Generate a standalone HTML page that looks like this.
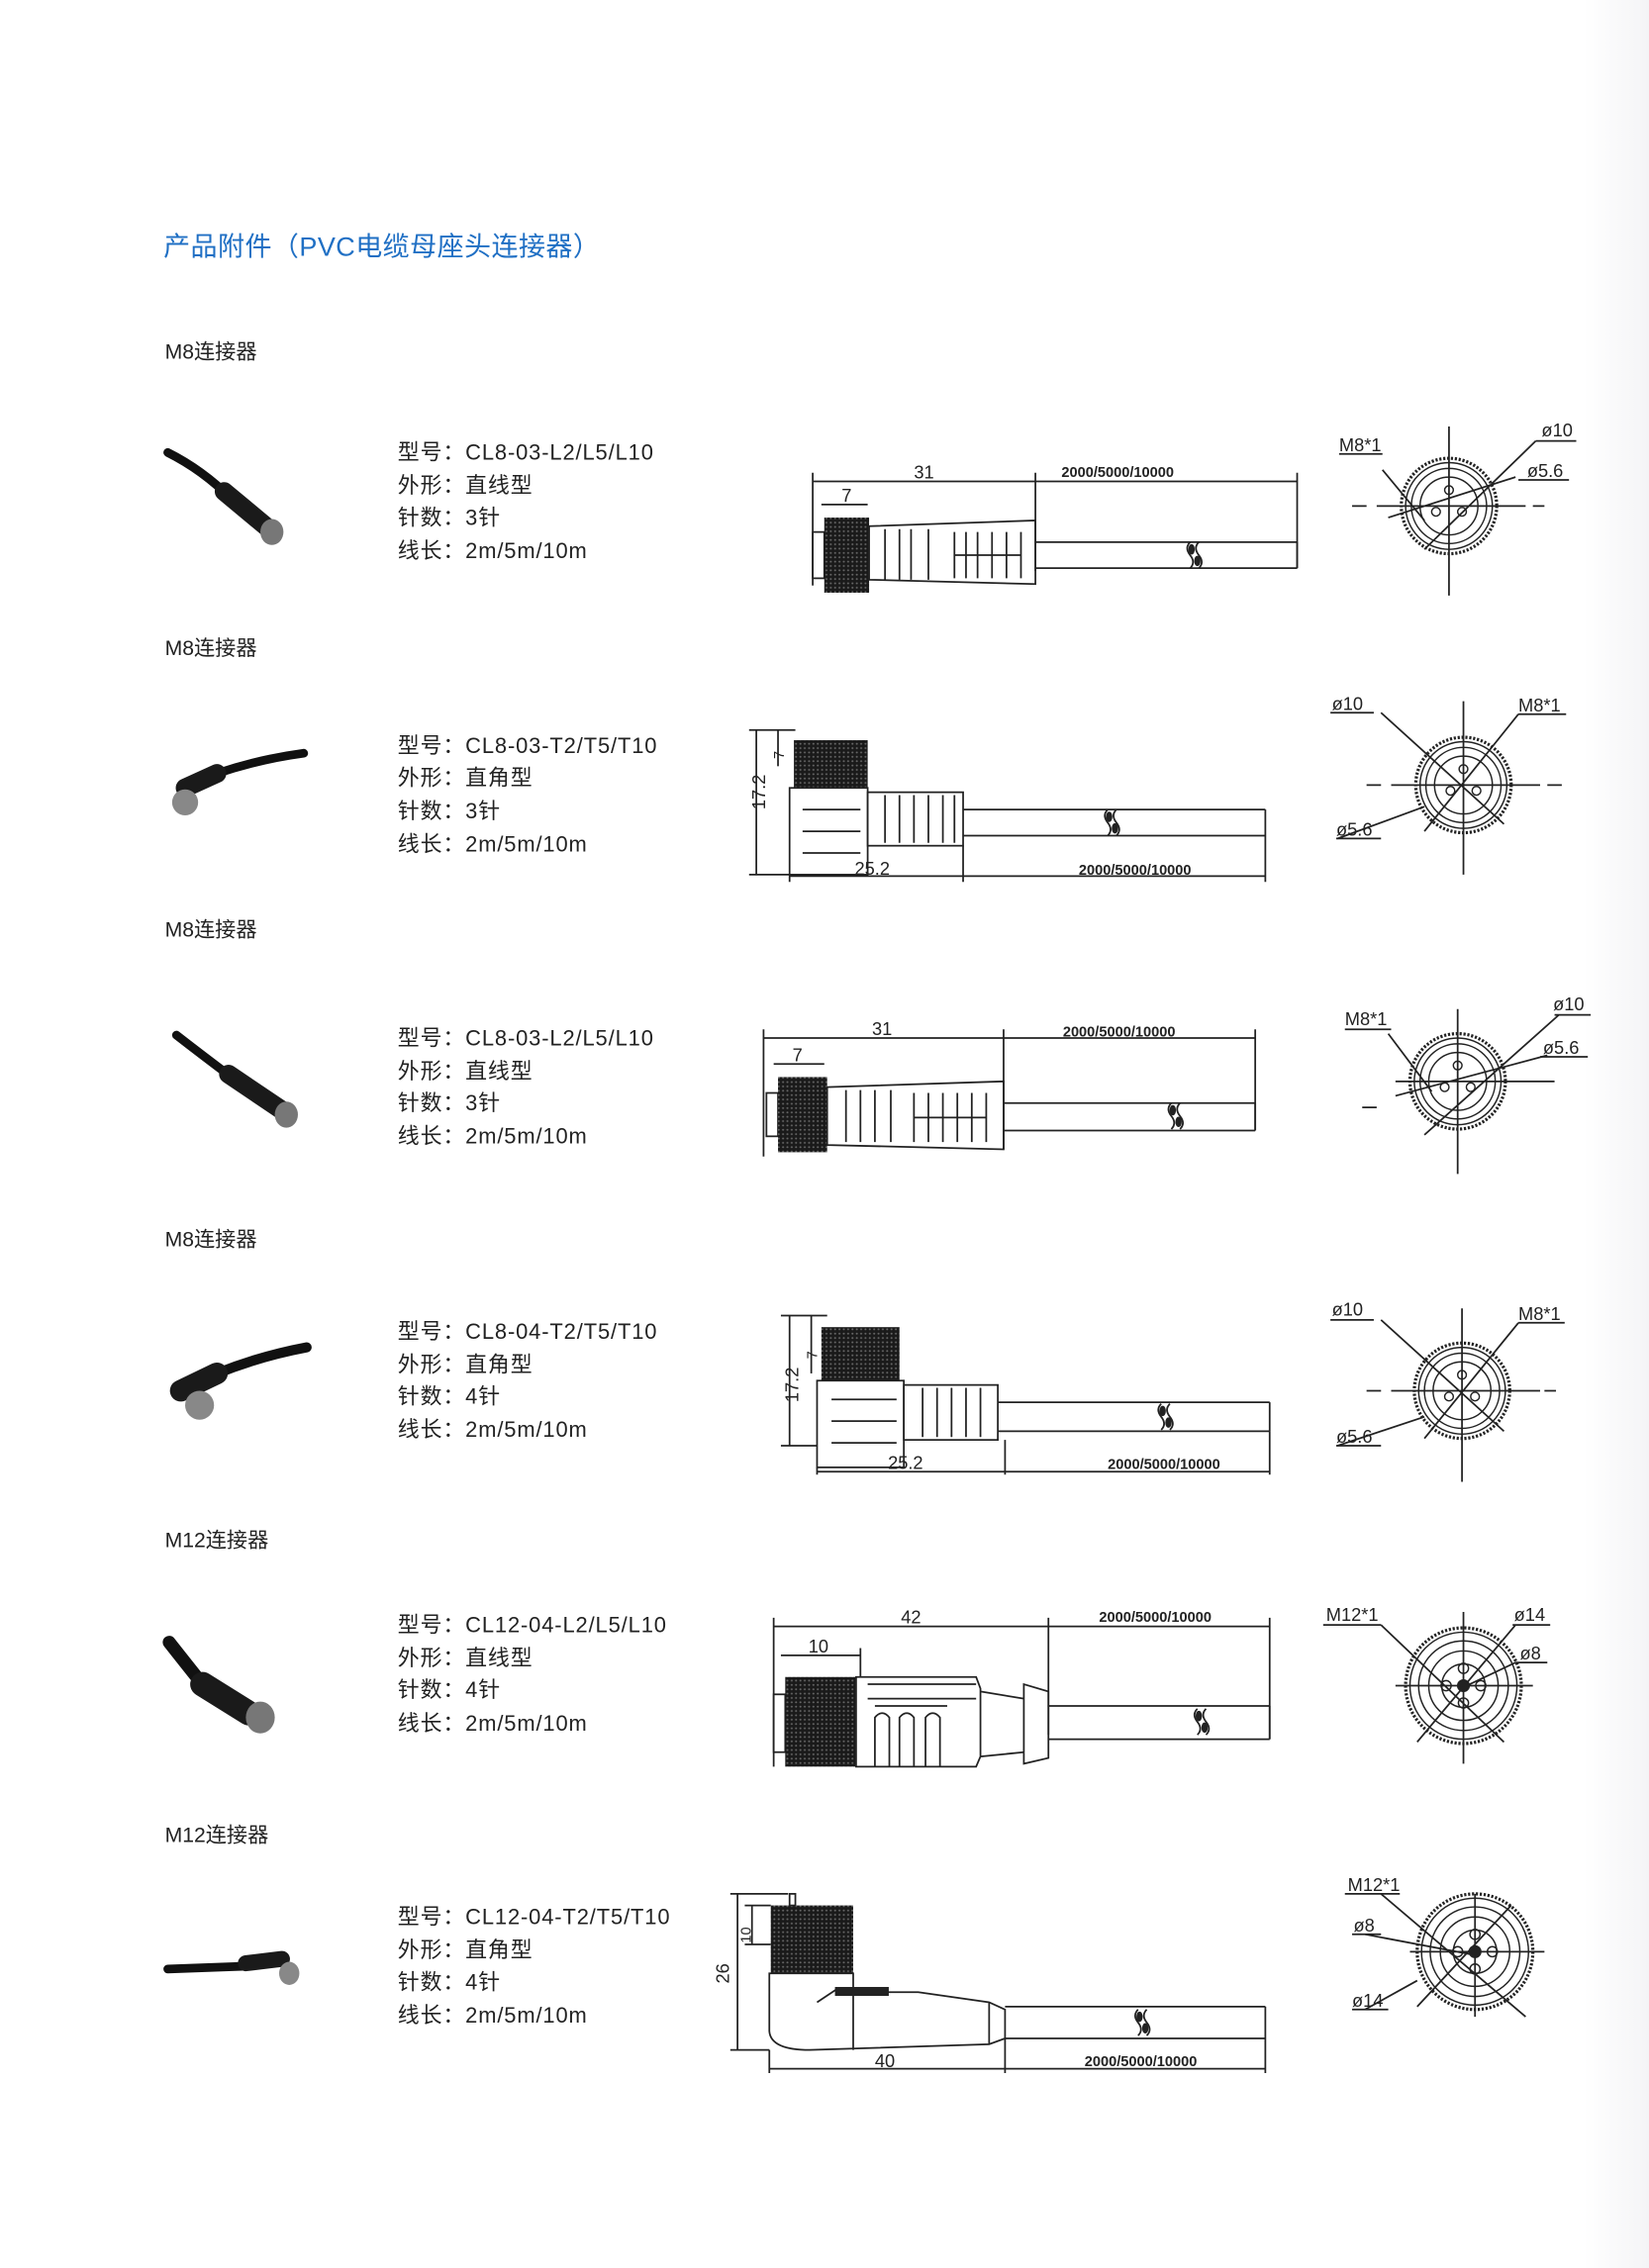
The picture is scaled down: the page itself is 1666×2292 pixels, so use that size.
<!DOCTYPE html>
<html><head><meta charset="utf-8"><style>
html,body{margin:0;padding:0;background:#fff}
svg{display:block}
.t{font-family:"Liberation Sans","Noto Sans CJK SC",sans-serif}
</style></head><body>
<svg width="1666" height="2292" viewBox="0 0 1140.3 1568.8" xmlns="http://www.w3.org/2000/svg">
<defs>
<pattern id="kn" width="3" height="3" patternUnits="userSpaceOnUse"><rect width="3" height="3" fill="#1a1a1a"/><circle cx="1.5" cy="1.5" r="0.7" fill="#666"/></pattern>
<linearGradient id="gr" x1="0" x2="1"><stop offset="0" stop-color="#fff"/><stop offset="1" stop-color="#f4f4f6"/></linearGradient>
<g id="brk"><path d="M0,-9 q-4,4 0,9 q4,5 0,9" fill="none" stroke="#222" stroke-width="1.2"/><path d="M6,-9 q-4,4 0,9 q4,5 0,9" fill="none" stroke="#222" stroke-width="1.2"/><ellipse cx="1" cy="-4" rx="1.6" ry="3" fill="#222"/><ellipse cx="5" cy="4" rx="1.6" ry="3" fill="#222"/></g>
<g id="circ8" fill="none" stroke="#222" stroke-width="1">
<circle r="33" stroke-dasharray="1.5 1.2" stroke-width="2.2"/><circle r="30"/><circle r="26"/><circle r="20"/>
<circle cx="0" cy="-11" r="3"/><circle cx="-9" cy="4" r="3"/><circle cx="9" cy="4" r="3"/>
</g>
<g id="circ12" fill="none" stroke="#222" stroke-width="1">
<circle r="40" stroke-dasharray="1.5 1.2" stroke-width="2.2"/><circle r="37"/><circle r="31"/><circle r="24"/><circle r="15"/>
<circle cx="0" cy="-12" r="3.5"/><circle cx="-12" cy="0" r="3.5"/><circle cx="12" cy="0" r="3.5"/><circle cx="0" cy="12" r="3.5"/><circle r="4" fill="#222"/>
</g>
</defs>
<rect x="1095" y="0" width="46" height="1569" fill="url(#gr)"/>
<g class="t">
<text x="113" y="177" font-size="18.5" fill="#1f6fc4" letter-spacing="0.3">产品附件（PVC电缆母座头连接器）</text>
<g font-size="14.5" fill="#222">
<text x="114" y="248">M8连接器</text><text x="114" y="453">M8连接器</text><text x="114" y="648">M8连接器</text>
<text x="114" y="862">M8连接器</text><text x="114" y="1070">M12连接器</text><text x="114" y="1274">M12连接器</text>
</g>
<g font-size="15" fill="#222" letter-spacing="0.6">
<text x="275" y="318">型号：CL8-03-L2/L5/L10</text><text x="275" y="341">外形：直线型</text><text x="275" y="363">针数：3针</text><text x="275" y="386">线长：2m/5m/10m</text>
<text x="275" y="521">型号：CL8-03-T2/T5/T10</text><text x="275" y="543">外形：直角型</text><text x="275" y="566">针数：3针</text><text x="275" y="589">线长：2m/5m/10m</text>
<text x="275" y="723">型号：CL8-03-L2/L5/L10</text><text x="275" y="746">外形：直线型</text><text x="275" y="768">针数：3针</text><text x="275" y="791">线长：2m/5m/10m</text>
<text x="275" y="926">型号：CL8-04-T2/T5/T10</text><text x="275" y="949">外形：直角型</text><text x="275" y="971">针数：4针</text><text x="275" y="994">线长：2m/5m/10m</text>
<text x="275" y="1129">型号：CL12-04-L2/L5/L10</text><text x="275" y="1152">外形：直线型</text><text x="275" y="1174">针数：4针</text><text x="275" y="1197">线长：2m/5m/10m</text>
<text x="275" y="1331">型号：CL12-04-T2/T5/T10</text><text x="275" y="1354">外形：直角型</text><text x="275" y="1376">针数：4针</text><text x="275" y="1399">线长：2m/5m/10m</text>
</g>
</g>
<!-- photos -->
<g stroke-linecap="round">
<path d="M116,313 Q140,325 160,345" stroke="#111" stroke-width="6" fill="none"/><path d="M155,340 L185,365" stroke="#1a1a1a" stroke-width="13"/><ellipse cx="188" cy="368" rx="8" ry="9" fill="#777"/>
<path d="M210,521 Q180,525 150,535" stroke="#111" stroke-width="6" fill="none"/><path d="M150,535 L128,545" stroke="#1a1a1a" stroke-width="13"/><ellipse cx="128" cy="555" rx="9" ry="9" fill="#888"/>
<path d="M122,716 Q140,730 160,745" stroke="#111" stroke-width="6" fill="none"/><path d="M158,743 L195,768" stroke="#1a1a1a" stroke-width="13"/><ellipse cx="198" cy="771" rx="8" ry="9" fill="#777"/>
<path d="M212,932 Q180,938 150,950" stroke="#111" stroke-width="7" fill="none"/><path d="M150,950 L125,962" stroke="#1a1a1a" stroke-width="15"/><ellipse cx="138" cy="972" rx="10" ry="10" fill="#888"/>
<path d="M117,1136 Q128,1150 140,1165" stroke="#111" stroke-width="9" fill="none"/><path d="M140,1165 L172,1185" stroke="#1a1a1a" stroke-width="17"/><ellipse cx="180" cy="1188" rx="10" ry="11" fill="#777"/>
<path d="M116,1362 L170,1360" stroke="#111" stroke-width="6" fill="none"/><path d="M170,1358 L195,1355" stroke="#1a1a1a" stroke-width="11"/><ellipse cx="200" cy="1365" rx="7" ry="8" fill="#888"/>
</g>
<g fill="none" stroke="#222" stroke-width="1.2" class="t">
<!-- D1 -->
<line x1="562" y1="327" x2="562" y2="405"/><line x1="716" y1="327" x2="716" y2="395"/><line x1="897" y1="327" x2="897" y2="393"/>
<line x1="562" y1="333" x2="897" y2="333"/><line x1="568" y1="349" x2="600" y2="349"/>
<rect x="562" y="368" width="8" height="32"/><rect x="570" y="358" width="31" height="52" fill="url(#kn)" stroke="none"/>
<path d="M601,364 L716,360 L716,404 L601,401 Z"/><path d="M612,366v35M622,366v35M630,366v35M642,366v35M660,368v32M668,368v32M676,368v32M686,368v32M696,368v32M706,368v32M660,384h46"/>
<path d="M716,375 H897 M716,393 H897 M897,375 V393"/><use href="#brk" x="823" y="384"/>
<g transform="translate(1002,350)"><use href="#circ8"/></g>
<path d="M1002,295 V412 M935,350 h10 M952,350 H1055 M1060,350 h8 M956,325 L985,360 M1062,305 L985,380 M1048,330 L960,358"/>
<path d="M926,314 H956 M1062,305 H1090 M1050,332 H1085"/>
<!-- D2 -->
<line x1="518" y1="505" x2="550" y2="505"/><line x1="518" y1="605" x2="546" y2="605"/><line x1="523" y1="505" x2="523" y2="605"/><line x1="538" y1="505" x2="538" y2="530"/>
<rect x="549" y="512" width="51" height="33" fill="url(#kn)" stroke="none"/><rect x="546" y="545" width="54" height="60"/>
<path d="M555,560h40M555,575h40M555,590h40"/><rect x="600" y="548" width="66" height="37"/><path d="M612,550v33M622,550v33M632,550v33M642,550v33M652,550v33M660,550v33"/>
<path d="M666,560 H875 M666,578 H875 M875,560 V578"/><use href="#brk" x="766" y="569"/>
<path d="M546,605 V610 M666,585 V610 M875,578 V610 M546,606 H875"/>
<g transform="translate(1012,543)"><use href="#circ8"/></g>
<path d="M1012,485 V605 M945,543 h10 M962,543 H1065 M1070,543 h10 M955,493 L1040,570 M1050,494 L985,575 M925,580 L985,558"/>
<path d="M920,493 H950 M1050,494 H1083 M924,580 H955"/>
<!-- D3 -->
<line x1="528" y1="712" x2="528" y2="800"/><line x1="694" y1="712" x2="694" y2="795"/><line x1="868" y1="712" x2="868" y2="782"/>
<line x1="528" y1="718" x2="868" y2="718"/><line x1="535" y1="736" x2="570" y2="736"/>
<rect x="530" y="756" width="8" height="30"/><rect x="538" y="745" width="34" height="52" fill="url(#kn)" stroke="none"/>
<path d="M572,752 L694,748 L694,795 L572,792 Z"/><path d="M585,754v36M595,754v36M605,754v36M616,754v36M632,756v34M642,756v34M652,756v34M662,756v34M672,756v34M682,756v34M632,773h50"/>
<path d="M694,763 H868 M694,782 H868 M868,763 V782"/><use href="#brk" x="810" y="772"/>
<g transform="translate(1008,748)"><use href="#circ8"/></g>
<path d="M1008,698 V812 M942,766 h10 M965,748 H1075 M960,715 L990,755 M1078,702 L985,785 M1070,730 L965,758"/>
<path d="M930,712 H962 M1075,702 H1100 M1065,731 H1098"/>
<!-- D4 -->
<line x1="540" y1="910" x2="572" y2="910"/><line x1="540" y1="1000" x2="565" y2="1000"/><line x1="546" y1="910" x2="546" y2="1000"/><line x1="561" y1="910" x2="561" y2="950"/>
<rect x="568" y="918" width="54" height="37" fill="url(#kn)" stroke="none"/><rect x="565" y="955" width="60" height="60"/>
<path d="M575,968h45M575,983h45M575,998h45"/><rect x="625" y="958" width="65" height="38"/><path d="M638,960v34M648,960v34M658,960v34M668,960v34M678,960v34"/>
<path d="M690,970 H878 M690,990 H878 M878,970 V990"/><use href="#brk" x="803" y="980"/>
<path d="M565,1015 V1020 M695,996 V1020 M878,990 V1020 M565,1018 H878"/>
<g transform="translate(1011,962)"><use href="#circ8"/></g>
<path d="M1011,905 V1025 M945,962 h10 M962,962 H1065 M1068,962 h8 M955,913 L1040,990 M1050,915 L985,995 M925,1000 L985,980"/>
<path d="M920,913 H950 M1050,915 H1082 M924,1000 H955"/>
<!-- D5 -->
<line x1="535" y1="1119" x2="535" y2="1222"/><line x1="725" y1="1119" x2="725" y2="1200"/><line x1="878" y1="1119" x2="878" y2="1203"/>
<line x1="535" y1="1125" x2="878" y2="1125"/><line x1="540" y1="1145" x2="595" y2="1145"/><line x1="595" y1="1140" x2="595" y2="1160"/>
<rect x="535" y="1172" width="8" height="40"/><rect x="543" y="1160" width="49" height="62" fill="url(#kn)" stroke="none"/>
<path d="M592,1160 H675 L678,1168 V1215 L675,1222 H592 Z"/><path d="M600,1165 H675 M600,1175 H675 M605,1180 h50"/><path d="M605,1222 V1188 q5,-6 10,0 V1222 M622,1222 V1188 q5,-6 10,0 V1222 M640,1222 V1188 q5,-6 10,0 V1222"/>
<path d="M678,1170 L708,1175 V1212 L678,1215 M708,1165 L725,1170 V1216 L708,1220 Z"/>
<path d="M725,1180 H878 M725,1203 H878 M878,1180 V1203"/><use href="#brk" x="828" y="1191"/>
<g transform="translate(1012,1166)"><use href="#circ12"/></g>
<path d="M1012,1115 V1220 M965,1166 H1060 M955,1124 L1040,1205 M1048,1124 L980,1205 M1048,1150 L1010,1168"/>
<path d="M915,1124 H955 M1046,1124 H1072 M1048,1150 H1070"/>
<!-- D6 -->
<line x1="505" y1="1310" x2="545" y2="1310"/><line x1="510" y1="1310" x2="510" y2="1418"/><line x1="505" y1="1418" x2="532" y2="1418"/><line x1="520" y1="1318" x2="520" y2="1345"/><line x1="515" y1="1318" x2="533" y2="1318"/><line x1="515" y1="1345" x2="533" y2="1345"/>
<rect x="533" y="1318" width="57" height="47" fill="url(#kn)" stroke="none"/><rect x="546" y="1310" width="4" height="8"/>
<path d="M532,1365 H590 V1378 H635 L684,1385 L695,1390 V1410 L684,1414 L560,1418 Q533,1418 532,1405 Z"/><path d="M590,1378 V1418 M684,1385 V1414 M565,1385 L580,1375"/><rect x="578" y="1375" width="36" height="5" fill="#222"/>
<path d="M695,1388 H875 M695,1410 H875 M875,1388 V1410"/><use href="#brk" x="787" y="1399"/>
<path d="M532,1418 V1434 M695,1410 V1434 M875,1410 V1434 M532,1431 H875"/>
<g transform="translate(1020,1350)"><use href="#circ12"/></g>
<path d="M1020,1310 V1395 M975,1350 H1068 M955,1310 L1055,1395 M1045,1318 L980,1388 M944,1338 L1018,1352 M944,1390 L980,1370"/>
<path d="M930,1310 H968 M935,1338 H955 M935,1390 H960"/>
</g>
<g class="t" font-size="12.5" fill="#222">
<text x="632" y="331">31</text><text x="582" y="347">7</text><text x="734" y="330" font-size="10" font-weight="bold">2000/5000/10000</text>
<text x="926" y="312">M8*1</text><text x="1066" y="302">ø10</text><text x="1056" y="330">ø5.6</text>
<text x="591" y="605">25.2</text><text x="746" y="605" font-size="10" font-weight="bold">2000/5000/10000</text>
<text transform="translate(529,560) rotate(-90)">17.2</text><text transform="translate(542,525) rotate(-90)" font-size="10">7</text>
<text x="921" y="491">ø10</text><text x="1050" y="492">M8*1</text><text x="924" y="578">ø5.6</text>
<text x="603" y="716">31</text><text x="548" y="734">7</text><text x="735" y="717" font-size="10" font-weight="bold">2000/5000/10000</text>
<text x="930" y="709">M8*1</text><text x="1074" y="699">ø10</text><text x="1067" y="729">ø5.6</text>
<text x="614" y="1016">25.2</text><text x="766" y="1016" font-size="10" font-weight="bold">2000/5000/10000</text>
<text transform="translate(552,970) rotate(-90)">17.2</text><text transform="translate(565,940) rotate(-90)" font-size="10">7</text>
<text x="921" y="910">ø10</text><text x="1050" y="913">M8*1</text><text x="924" y="998">ø5.6</text>
<text x="623" y="1123">42</text><text x="559" y="1143">10</text><text x="760" y="1122" font-size="10" font-weight="bold">2000/5000/10000</text>
<text x="917" y="1121">M12*1</text><text x="1047" y="1121">ø14</text><text x="1051" y="1148">ø8</text>
<text transform="translate(504,1372) rotate(-90)">26</text><text transform="translate(519,1344) rotate(-90)" font-size="10">10</text>
<text x="605" y="1430">40</text><text x="750" y="1429" font-size="10" font-weight="bold">2000/5000/10000</text>
<text x="932" y="1308">M12*1</text><text x="936" y="1336">ø8</text><text x="935" y="1388">ø14</text>
</g>
</svg>
</body></html>
